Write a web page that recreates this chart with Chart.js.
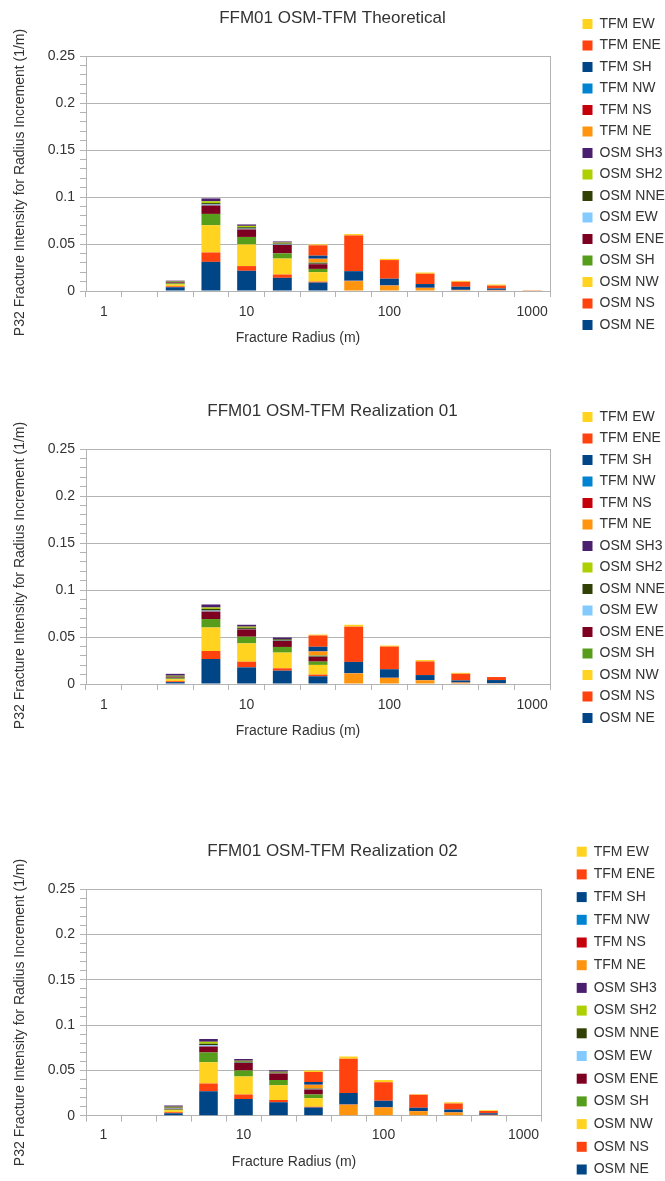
<!DOCTYPE html>
<html>
<head>
<meta charset="utf-8">
<script src="https://cdn.jsdelivr.net/npm/chart.js@4.4.0/dist/chart.umd.min.js"></script>
<style>
  body { margin: 0; background: #fff; overflow: hidden; }
  canvas { position: absolute; left: 0; }
</style>
</head>
<body>
<canvas id="c1" width="665" height="360" style="top:0px"></canvas>
<canvas id="c2" width="665" height="360" style="top:393px"></canvas>
<canvas id="c3" width="665" height="356" style="top:833px"></canvas>
<script>
// fracture radius classes (m), 4 per decade
const radii = ['1', '1.78', '3.16', '5.62', '10', '17.8', '31.6', '56.2', '100', '178', '316', '562', '1000'];
const radiusTickLabels = ['1', '', '', '', '10', '', '', '', '100', '', '', '', '1000'];

// stack order, bottom to top
const seriesNames = ['OSM NE', 'OSM NS', 'OSM NW', 'OSM SH', 'OSM ENE', 'OSM EW', 'OSM NNE', 'OSM SH2', 'OSM SH3',
                     'TFM NE', 'TFM NS', 'TFM NW', 'TFM SH', 'TFM ENE', 'TFM EW'];
const seriesColors = ['#004586', '#ff420e', '#ffd320', '#579d1c', '#7e0021', '#83caff', '#314004', '#aecf00', '#4b1f6f',
                      '#ff950e', '#c5000b', '#0084d1', '#004586', '#ff420e', '#ffd320'];

// FFM01 OSM-TFM Theoretical
const theoOsmNE  = [0, 0, 0.004,  0.031,  0.0215, 0.014,  0.009,  0, 0, 0, 0, 0, 0];
const theoOsmNS  = [0, 0, 0.001,  0.010,  0.005,  0.0035, 0.001,  0, 0, 0, 0, 0, 0];
const theoOsmNW  = [0, 0, 0.002,  0.029,  0.023,  0.017,  0.010,  0, 0, 0, 0, 0, 0];
const theoOsmSH  = [0, 0, 0.0012, 0.012,  0.008,  0.0055, 0.0035, 0, 0, 0, 0, 0, 0];
const theoOsmENE = [0, 0, 0.001,  0.009,  0.008,  0.009,  0.005,  0, 0, 0, 0, 0, 0];
const theoOsmEW  = [0, 0, 0.0002, 0.001,  0.0008, 0.0005, 0.0003, 0, 0, 0, 0, 0, 0];
const theoOsmNNE = [0, 0, 0.0006, 0.0015, 0.0015, 0.001,  0.0008, 0, 0, 0, 0, 0, 0];
const theoOsmSH2 = [0, 0, 0.0004, 0.002,  0.0015, 0.001,  0.0005, 0, 0, 0, 0, 0, 0];
const theoOsmSH3 = [0, 0, 0.0006, 0.003,  0.0015, 0.0012, 0.0004, 0, 0, 0, 0, 0, 0];
const theoTfmNE  = [0, 0, 0, 0, 0, 0, 0.0035, 0.0105, 0.0057, 0.0032, 0.001,  0.0008, 0];
const theoTfmNS  = [0, 0, 0, 0, 0, 0, 0.0003, 0.0003, 0.0002, 0.0002, 0.0002, 0.0003, 0];
const theoTfmNW  = [0, 0, 0, 0, 0, 0, 0.0003, 0.0003, 0.0002, 0.0002, 0.0001, 0.0001, 0];
const theoTfmSH  = [0, 0, 0, 0, 0, 0, 0.003,  0.010,  0.007,  0.0038, 0.0032, 0.0015, 0];
const theoTfmENE = [0, 0, 0, 0, 0, 0, 0.011,  0.038,  0.0198, 0.011,  0.0053, 0.003,  0.0008];
const theoTfmEW  = [0, 0, 0, 0, 0, 0, 0.001,  0.0015, 0.0013, 0.0013, 0.001,  0.0012, 0.0002];

// FFM01 OSM-TFM Realization 01
const real1OsmNE  = [0, 0, 0.002,  0.0266, 0.0177, 0.0142, 0.0082, 0, 0, 0, 0, 0, 0];
const real1OsmNS  = [0, 0, 0.001,  0.0085, 0.006,  0.0025, 0.0018, 0, 0, 0, 0, 0, 0];
const real1OsmNW  = [0, 0, 0.002,  0.025,  0.0195, 0.0167, 0.0103, 0, 0, 0, 0, 0, 0];
const real1OsmSH  = [0, 0, 0.001,  0.009,  0.0071, 0.006,  0.0035, 0, 0, 0, 0, 0, 0];
const real1OsmENE = [0, 0, 0.001,  0.008,  0.0078, 0.0064, 0.005,  0, 0, 0, 0, 0, 0];
const real1OsmEW  = [0, 0, 0.0002, 0.001,  0.0005, 0.0003, 0.0002, 0, 0, 0, 0, 0, 0];
const real1OsmNNE = [0, 0, 0.0008, 0.0018, 0.0012, 0.0015, 0.0008, 0, 0, 0, 0, 0, 0];
const real1OsmSH2 = [0, 0, 0.0008, 0.0015, 0.0012, 0.0003, 0.0004, 0, 0, 0, 0, 0, 0];
const real1OsmSH3 = [0, 0, 0.002,  0.0032, 0.002,  0.0016, 0.0004, 0, 0, 0, 0, 0, 0];
const real1TfmNE  = [0, 0, 0, 0, 0, 0, 0.0039, 0.0113, 0.0064, 0.0039, 0.0014, 0.0007, 0];
const real1TfmNS  = [0, 0, 0, 0, 0, 0, 0.0003, 0.0002, 0.0002, 0.0002, 0.0002, 0.0001, 0];
const real1TfmNW  = [0, 0, 0, 0, 0, 0, 0.0002, 0.0002, 0.0002, 0.0001, 0.0001, 0.0001, 0];
const real1TfmSH  = [0, 0, 0, 0, 0, 0, 0.0046, 0.0118, 0.0089, 0.0053, 0.0021, 0.0033, 0];
const real1TfmENE = [0, 0, 0, 0, 0, 0, 0.012,  0.0375, 0.0241, 0.0145, 0.0071, 0.0032, 0];
const real1TfmEW  = [0, 0, 0, 0, 0, 0, 0.001,  0.002,  0.0011, 0.0015, 0.001,  0,      0];

// FFM01 OSM-TFM Realization 02
const real2OsmNE  = [0, 0, 0.0028, 0.027,  0.0184, 0.0148, 0.009,  0, 0, 0, 0, 0, 0];
const real2OsmNS  = [0, 0, 0.001,  0.0086, 0.005,  0.0025, 0.001,  0, 0, 0, 0, 0, 0];
const real2OsmNW  = [0, 0, 0.0022, 0.0234, 0.0198, 0.0162, 0.0094, 0, 0, 0, 0, 0, 0];
const real2OsmSH  = [0, 0, 0.0008, 0.0108, 0.0068, 0.0058, 0.004,  0, 0, 0, 0, 0, 0];
const real2OsmENE = [0, 0, 0.001,  0.0065, 0.0083, 0.0072, 0.0055, 0, 0, 0, 0, 0, 0];
const real2OsmEW  = [0, 0, 0.0003, 0.0014, 0.0003, 0.0003, 0.0002, 0, 0, 0, 0, 0, 0];
const real2OsmNNE = [0, 0, 0.001,  0.0018, 0.0012, 0.001,  0.0006, 0, 0, 0, 0, 0, 0];
const real2OsmSH2 = [0, 0, 0.0008, 0.0022, 0.001,  0.0006, 0.0003, 0, 0, 0, 0, 0, 0];
const real2OsmSH3 = [0, 0, 0.0015, 0.0029, 0.0018, 0.0018, 0.0003, 0, 0, 0, 0, 0, 0];
const real2TfmNE  = [0, 0, 0, 0, 0, 0, 0.0036, 0.0122, 0.009,  0.005,  0.0036, 0.0008, 0];
const real2TfmNS  = [0, 0, 0, 0, 0, 0, 0.0003, 0.0002, 0.0002, 0.0002, 0.0002, 0.0002, 0];
const real2TfmNW  = [0, 0, 0, 0, 0, 0, 0.0002, 0.0002, 0.0002, 0.0001, 0.0001, 0.0001, 0];
const real2TfmSH  = [0, 0, 0, 0, 0, 0, 0.0029, 0.0124, 0.007,  0.0034, 0.003,  0.0015, 0];
const real2TfmENE = [0, 0, 0, 0, 0, 0, 0.011,  0.038,  0.0205, 0.0145, 0.0065, 0.0025, 0];
const real2TfmEW  = [0, 0, 0, 0, 0, 0, 0.0015, 0.0025, 0.0025, 0.0005, 0.0014, 0.001,  0];

const yTicks = { min: 0, max: 0.25, step: 0.01, major: 5 };
const xAxisTitle = 'Fracture Radius (m)';
const yAxisTitle = 'P32 Fracture Intensity for Radius Increment (1/m)';
const axisGrey = '#b3b3b3';
const textGrey = '#333333';
const fontFamily = '"Liberation Sans", Arial, sans-serif';

Chart.defaults.font.family = fontFamily;
Chart.defaults.color = textGrey;

let isMajor = (v) => Math.round(v / yTicks.step) % yTicks.major === 0;

// axis captions, placed like the office chart does (not centred on the plot)
const axisCaptions = {
    id: 'axisCaptions',
    afterDraw(chart, args, opts) {
        const { ctx, chartArea: a } = chart;
        ctx.save();
        ctx.fillStyle = textGrey;
        ctx.font = '14px ' + fontFamily;
        ctx.textAlign = 'center';
        ctx.textBaseline = 'middle';
        ctx.fillText(xAxisTitle, (a.left + a.right) / 2 + opts.xdx, a.bottom + opts.xdy);
        ctx.translate(opts.yx, (a.top + a.bottom) / 2 + opts.ydy);
        ctx.rotate(-Math.PI / 2);
        ctx.fillText(yAxisTitle, 0, 0);
        ctx.restore();
    }
};

let makeChart = (id, title, series, geo) => {
    return new Chart(id, {
        type: 'bar',
        data: {
            labels: radii,
            datasets: series.map((values, i) => ({
                label: seriesNames[i],
                data: values,
                backgroundColor: seriesColors[i],
                borderWidth: 0,
                barPercentage: 0.53,
                categoryPercentage: 1.0
            }))
        },
        plugins: [axisCaptions],
        options: {
            responsive: false,
            animation: false,
            layout: { padding: { top: geo.padTop, left: 0, right: 0, bottom: 0 } },
            plugins: {
                title: {
                    display: true,
                    text: title,
                    font: { size: 17, weight: 'normal', lineHeight: 1 },
                    padding: { top: geo.titleTop, bottom: geo.titleBottom }
                },
                legend: {
                    position: 'right',
                    align: 'start',
                    reverse: true,
                    maxWidth: geo.legendWidth,
                    labels: { boxWidth: 10, boxHeight: 10, padding: geo.legendPad, font: { size: 14 } }
                },
                tooltip: { enabled: false },
                axisCaptions: { xdx: geo.xdx, xdy: geo.xdy, yx: 20, ydy: geo.ydy }
            },
            scales: {
                x: {
                    stacked: true,
                    offset: true,
                    grid: { offset: true, drawOnChartArea: false, tickLength: 6, color: axisGrey },
                    border: { color: axisGrey },
                    ticks: {
                        autoSkip: false, maxRotation: 0, padding: geo.xTickPad, font: { size: 14 },
                        callback: (v, i) => radiusTickLabels[i]
                    },
                    afterFit: s => { s.height = geo.xHeight; }
                },
                y: {
                    stacked: true,
                    min: yTicks.min,
                    max: yTicks.max,
                    grid: {
                        tickLength: 6,
                        tickColor: axisGrey,
                        color: ctx => isMajor(ctx.tick.value) ? axisGrey : 'rgba(0,0,0,0)'
                    },
                    border: { color: axisGrey },
                    ticks: {
                        stepSize: yTicks.step, autoSkip: false, padding: 5, font: { size: 14 },
                        callback: v => isMajor(v) ? String(Math.round(v * 100) / 100) : ''
                    },
                    afterFit: s => { s.width = 86; }
                },
                frame: {
                    type: 'linear',
                    position: 'right',
                    grid: { drawOnChartArea: false, drawTicks: false },
                    border: { color: axisGrey },
                    ticks: { display: false },
                    afterFit: s => { s.width = geo.gap; }
                }
            }
        }
    });
};

let geoTop = { padTop: 9.5, titleTop: 0, titleBottom: 29.5, xHeight: 69, xTickPad: 6.6,
               gap: 25, legendWidth: 90, legendPad: 7.5, xdx: -20, xdy: 47, ydy: 9 };
let geoLow = { padTop: 3, titleTop: 7.2, titleBottom: 29.1, xHeight: 73.3, xTickPad: 4.9,
               gap: 27, legendWidth: 97, legendPad: 8.7, xdx: -19.5, xdy: 46, ydy: 10 };

makeChart('c1', 'FFM01 OSM-TFM Theoretical',
    [theoOsmNE, theoOsmNS, theoOsmNW, theoOsmSH, theoOsmENE, theoOsmEW, theoOsmNNE, theoOsmSH2, theoOsmSH3,
     theoTfmNE, theoTfmNS, theoTfmNW, theoTfmSH, theoTfmENE, theoTfmEW], geoTop);

makeChart('c2', 'FFM01 OSM-TFM Realization 01',
    [real1OsmNE, real1OsmNS, real1OsmNW, real1OsmSH, real1OsmENE, real1OsmEW, real1OsmNNE, real1OsmSH2, real1OsmSH3,
     real1TfmNE, real1TfmNS, real1TfmNW, real1TfmSH, real1TfmENE, real1TfmEW], geoTop);

makeChart('c3', 'FFM01 OSM-TFM Realization 02',
    [real2OsmNE, real2OsmNS, real2OsmNW, real2OsmSH, real2OsmENE, real2OsmEW, real2OsmNNE, real2OsmSH2, real2OsmSH3,
     real2TfmNE, real2TfmNS, real2TfmNW, real2TfmSH, real2TfmENE, real2TfmEW], geoLow);
</script>
</body>
</html>
